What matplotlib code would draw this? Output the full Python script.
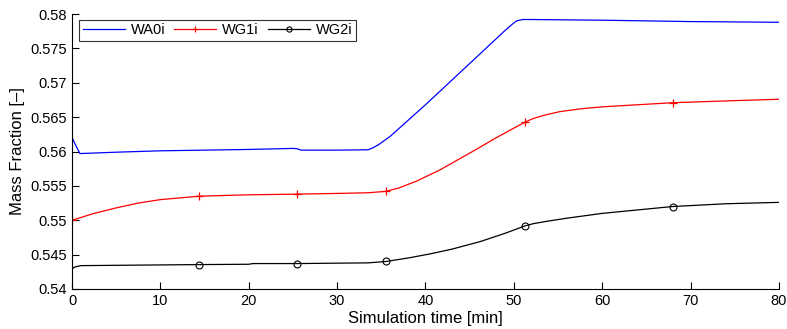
import numpy as np
import matplotlib.pyplot as plt
from matplotlib.ticker import FuncFormatter

# --- data ---
t_wa0 = [0, 0.3, 0.9, 5, 10, 15, 20, 25, 25.5, 25.9, 30, 33.5, 34, 34.7, 36, 40, 45, 49, 49.8, 50.3,
         51, 52, 60, 70, 80]
wa0 = [0.5621, 0.5612, 0.5597, 0.5599, 0.5601, 0.5602, 0.5603, 0.56045, 0.5604, 0.5602, 0.5602, 0.56025,
       0.5605, 0.5610, 0.5622, 0.5668, 0.5728, 0.5776, 0.5785, 0.5790, 0.5792, 0.5792, 0.5791, 0.5789, 0.5788]

t_wg1 = [0, 1, 2.5, 5, 7.5, 10, 14.4, 20, 25.5, 30, 33.5, 34.5, 35.5, 37, 39, 41.6, 45.6, 48, 50, 51.3,
         52.2, 53.5, 55.2, 57.5, 60, 64, 68, 75, 80]
wg1 = [0.5500, 0.5504, 0.5510, 0.5518, 0.5525, 0.5530, 0.5535, 0.5537, 0.5538, 0.5539, 0.5540, 0.5541,
       0.5542, 0.5547, 0.5557, 0.5573, 0.5602, 0.5620, 0.5634, 0.5643, 0.5648, 0.5653, 0.5658, 0.5662,
       0.5665, 0.5668, 0.5671, 0.5674, 0.5676]

t_wg2 = [0, 0.3, 1, 14.4, 20, 20.5, 25.5, 33.5, 34.5, 35.5, 38, 40.5, 43, 46.2, 49, 51.3, 52.2, 53.5,
         56, 60, 64, 68, 74, 80]
wg2 = [0.5429, 0.5432, 0.5434, 0.54355, 0.5436, 0.5437, 0.5437, 0.5438, 0.5439, 0.5440, 0.5445, 0.5451,
       0.5458, 0.5469, 0.5481, 0.5492, 0.5495, 0.5498, 0.5503, 0.5510, 0.5515, 0.5520, 0.5524, 0.5526]

marks_wg1 = [0, 14.4, 25.5, 35.5, 51.3, 68]
marks_wg2 = [14.4, 25.5, 35.5, 51.3, 68]

plt.rcParams['font.family'] = ['Liberation Sans', 'DejaVu Sans']

fig = plt.figure(figsize=(7.87, 3.29), dpi=100)
ax = fig.add_axes([0.0915, 0.1216, 0.8983, 0.8358])

ax.plot(t_wa0, wa0, color='blue', lw=0.9, label='WA0i')
ax.plot(t_wg1, wg1, color='red', lw=0.9, marker='+', ms=6, mew=0.9,
        markevery=list(np.where(np.isin(t_wg1, marks_wg1))[0]), label='WG1i')
ax.plot(t_wg2, wg2, color='black', lw=0.9, marker='o', ms=5, mew=0.8, mfc='none',
        markevery=list(np.where(np.isin(t_wg2, marks_wg2))[0]), label='WG2i')

ax.set_xlim(0, 80)
ax.set_ylim(0.54, 0.58)
ax.set_xticks(np.arange(0, 81, 10))
ax.set_yticks(np.arange(0.54, 0.5801, 0.005))
ax.yaxis.set_major_formatter(FuncFormatter(lambda v, p: f'{v:g}'))
ax.tick_params(direction='in', length=5, labelsize=10.5, width=0.8)
ax.spines['top'].set_visible(False)
ax.spines['right'].set_visible(False)
for s in ['left', 'bottom']:
    ax.spines[s].set_linewidth(0.8)

ax.set_xlabel('Simulation time [min]', fontsize=12, labelpad=2)
ax.set_ylabel('Mass Fraction [\u2013]', fontsize=12, labelpad=4)

leg = ax.legend(loc='upper left', ncol=3, fontsize=10.5, frameon=True, fancybox=False,
                edgecolor='black', borderpad=0.25, handlelength=2.9, columnspacing=0.6,
                handletextpad=0.4, markerscale=0.75, borderaxespad=0,
                bbox_to_anchor=(0.0099, 0.979))
leg.get_frame().set_linewidth(0.8)

fig.savefig('out.png', dpi=100)
